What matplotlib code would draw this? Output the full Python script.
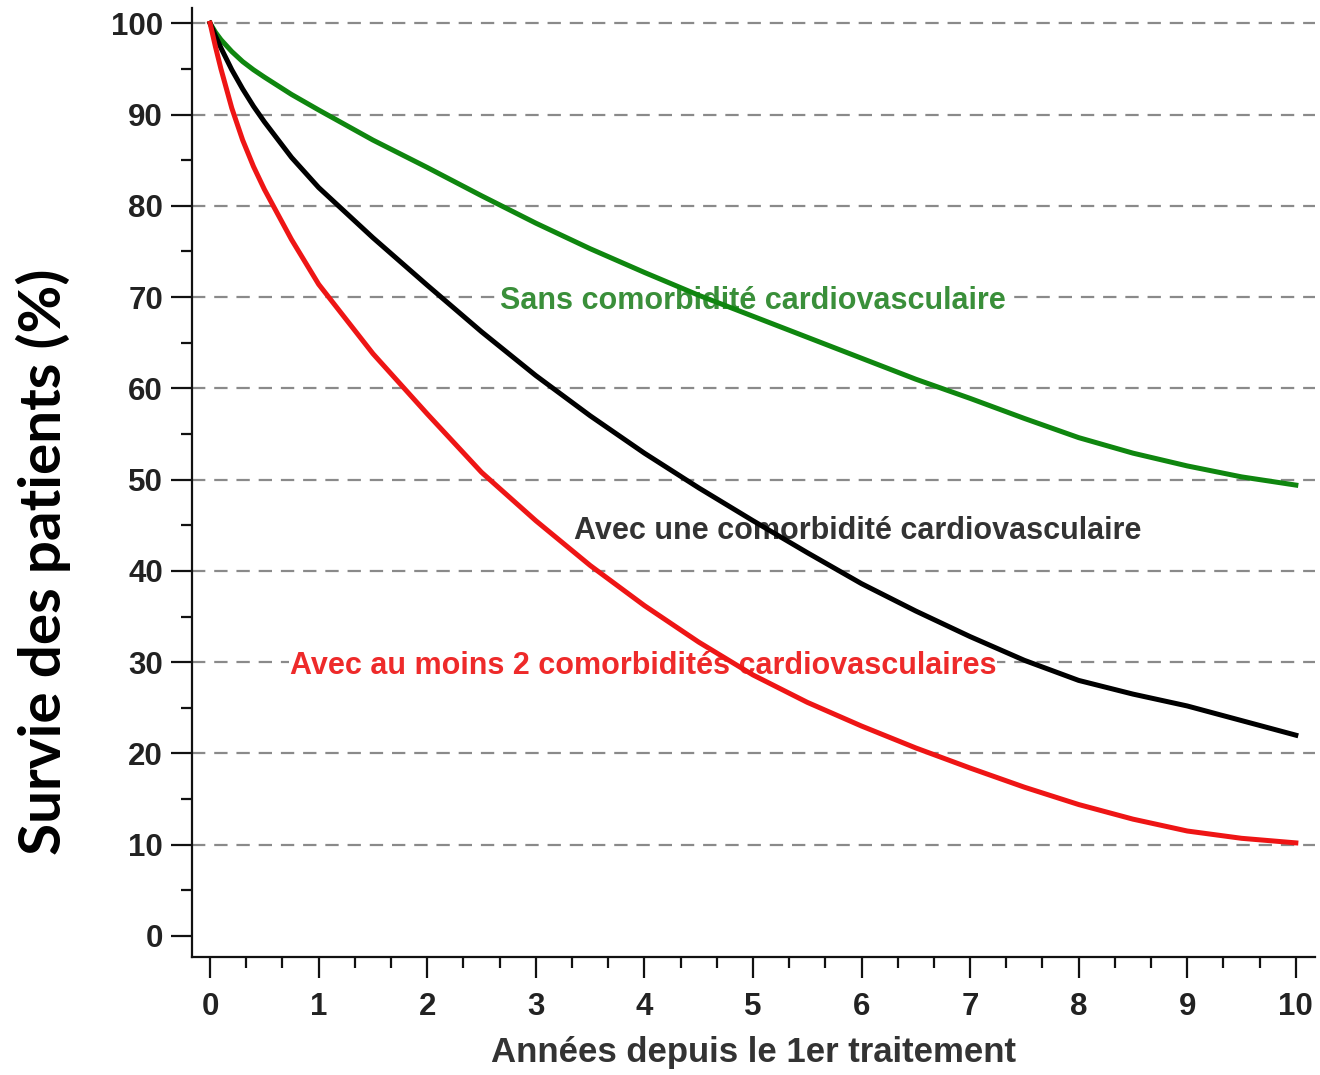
import matplotlib
matplotlib.use("Agg")
import matplotlib.pyplot as plt
import numpy as np

# ---- data ----
years = [0, 0.05, 0.1, 0.2, 0.3, 0.4, 0.5, 0.75, 1, 1.5, 2, 2.5, 3, 3.5, 4, 4.5, 5,
         5.5, 6, 6.5, 7, 7.5, 8, 8.5, 9, 9.5, 10]
sans = [100, 99.0, 98.2, 96.9, 95.8, 94.9, 94.1, 92.2, 90.5, 87.2, 84.2, 81.1,
        78.1, 75.3, 72.7, 70.2, 67.9, 65.6, 63.3, 61.0, 58.9, 56.7, 54.6, 52.9,
        51.5, 50.3, 49.4]
une = [100, 98.6, 97.3, 94.9, 92.8, 90.9, 89.2, 85.3, 82.0, 76.5, 71.3, 66.2,
       61.4, 57.0, 52.9, 49.1, 45.5, 42.0, 38.6, 35.6, 32.8, 30.2, 28.0, 26.5,
       25.2, 23.6, 22.0]
deux = [100, 97.4, 95.0, 90.7, 87.2, 84.3, 81.8, 76.3, 71.4, 63.8, 57.2, 50.8,
        45.5, 40.6, 36.2, 32.2, 28.6, 25.6, 23.0, 20.6, 18.4, 16.3, 14.4, 12.8,
        11.5, 10.7, 10.2]

series_labels = ["Sans comorbidité cardiovasculaire",
                 "Avec une comorbidité cardiovasculaire",
                 "Avec au moins 2 comorbidités cardiovasculaires"]
label_x = [5.0, 5.96, 3.99]
label_y = [69.6, 44.4, 29.6]

grid_values = [10, 20, 30, 40, 50, 60, 70, 80, 90, 100]
y_ticks = [0, 10, 20, 30, 40, 50, 60, 70, 80, 90, 100]
x_ticks = [0, 1, 2, 3, 4, 5, 6, 7, 8, 9, 10]

xlabel = "Années depuis le 1er traitement"
ylabel = "Survie des patients (%)"

line_colors = ["#0f860f", "#000000", "#ee1515"]
text_colors = ["#3a8f3a", "#333333", "#ee2a2a"]

# ---- figure ----
fig = plt.figure(figsize=(13.2, 10.75), dpi=100)
ax = fig.add_axes([0.1455, 0.1098, 0.851, 0.883])
ax.set_xlim(-0.166, 10.18)
ax.set_ylim(-2.3, 101.7)

for g in grid_values:
    ax.axhline(g, color="#8a8a8a", lw=1.6, dashes=(6, 4), zorder=1)

for lbl, lx, ly, tc in zip(series_labels, label_x, label_y, text_colors):
    ax.text(lx, ly, lbl, color=tc, ha="center", va="center",
            fontsize=22, fontweight="bold", family="Liberation Sans",
            bbox=dict(boxstyle="square,pad=0.02", fc="white", ec="none"),
            zorder=2)

for ys, c in zip([sans, une, deux], line_colors):
    ax.plot(years, ys, color=c, lw=3.6, zorder=3, solid_joinstyle="round")

for s in ["top", "right"]:
    ax.spines[s].set_visible(False)
for s in ["left", "bottom"]:
    ax.spines[s].set_linewidth(1.6)
    ax.spines[s].set_color("#111111")

ax.set_yticks(y_ticks)
ax.set_yticks(np.arange(5, 100, 10), minor=True)
ax.set_xticks(x_ticks)
ax.set_xticks([t for t in np.arange(0, 10.01, 1 / 3) if abs(t - round(t)) > 1e-6], minor=True)

ax.tick_params(axis="both", which="major", length=15, width=1.6, color="#111111",
               labelsize=22.5, labelcolor="#222222")
ax.tick_params(axis="both", which="minor", length=8, width=1.6, color="#111111")
ax.tick_params(axis="y", which="major", pad=6)
ax.tick_params(axis="x", which="major", pad=10)
for lab in ax.get_xticklabels() + ax.get_yticklabels():
    lab.set_fontweight("bold")
    lab.set_family("Liberation Sans")

ax.set_xlabel(xlabel, fontsize=25, fontweight="bold", color="#333333",
              family="Liberation Sans", labelpad=10)
ax.set_ylabel(ylabel, fontsize=42, fontweight="bold", color="#000000",
              family="Lato")
ax.yaxis.set_label_coords(-0.108, 0.416)

fig.savefig("out.png", dpi=100)
